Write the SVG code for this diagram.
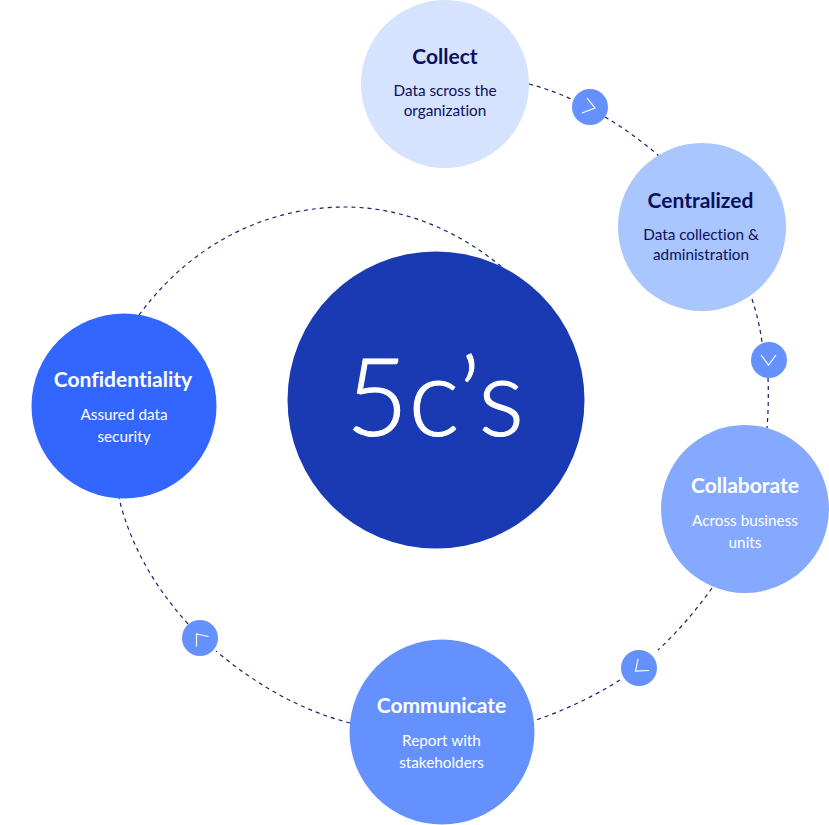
<svg xmlns="http://www.w3.org/2000/svg" width="829" height="825" viewBox="0 0 829 825">
<style>
text{font-family:"Lato","Noto Sans",sans-serif;text-anchor:middle;font-variant-ligatures:none}
.t{font-size:21px;font-weight:700}
.s{font-size:15.300px}
.d{fill:#0b0f5c}
.w{fill:#fff}
.c{fill:none;stroke:#1a1f6e;stroke-width:1.2;stroke-dasharray:4 4}
.b{fill:#6491fe}
.v{fill:none;stroke:#fff;stroke-width:1.2}
</style>
<rect width="829" height="825" fill="#fff"/>
<g id="connectors">
<path class="c" d="M529 84Q552 90 573 100"/>
<path class="c" d="M605 117Q634 134 660 157"/>
<path class="c" d="M752 299Q759 320 762 342"/>
<path class="c" d="M768 378Q769 403 767 428"/>
<path class="c" d="M712 588Q688 622 658 650"/>
<path class="c" d="M620 680Q580 705 536 720"/>
<path class="c" d="M350 723Q280 705 216 651"/>
<path class="c" d="M188 624Q135 565 119 498"/>
<path class="c" d="M139 315C205 226 290 207 345 207C405 207 460 232 503 268"/>
</g>
<g id="arrow-1"><circle class="b" cx="590" cy="107" r="18"/><path class="v" d="M587 98L595 108L582 113"/></g>
<g id="arrow-2"><circle class="b" cx="769" cy="360" r="18"/><path class="v" d="M761 355L768.500 365L776 355"/></g>
<g id="arrow-3"><circle class="b" cx="639" cy="668" r="18"/><path class="v" d="M638 659L635.500 671L649 670.500"/></g>
<g id="arrow-4"><circle class="b" cx="200" cy="638" r="18"/><path class="v" d="M196.500 646.500V634L208.500 636.500"/></g>
<g id="collect"><circle cx="445" cy="84" r="84" fill="#d5e3fe"/><text class="t d" x="445" y="63.500">Collect</text><text class="s d" x="445" y="95.500">Data scross the</text><text class="s d" x="445" y="115.500">organization</text></g>
<g id="centralized"><circle cx="702" cy="227" r="84" fill="#aac6fe"/><text class="t d" x="700.500" y="207.500">Centralized</text><text class="s d" x="701" y="239.500">Data collection &amp;</text><text class="s d" x="701" y="259.500">administration</text></g>
<g id="collaborate"><circle cx="745" cy="509" r="84" fill="#85a9fe"/><text class="t w" x="745" y="492.500">Collaborate</text><text class="s w" x="745" y="525.500">Across business</text><text class="s w" x="745" y="547.500">units</text></g>
<g id="communicate"><circle cx="442" cy="732" r="92.500" fill="#6491fe"/><text class="t w" x="441.500" y="712.500">Communicate</text><text class="s w" x="441.500" y="745.500">Report with</text><text class="s w" x="441.500" y="767.500">stakeholders</text></g>
<g id="confidentiality"><circle cx="124" cy="406" r="92.500" fill="#3366fe"/><text class="t w" x="123" y="386.500">Confidentiality</text><text class="s w" x="124" y="419.500">Assured data</text><text class="s w" x="124" y="441.500">security</text></g>
<g id="center"><circle cx="436" cy="400" r="148.500" fill="#1a3ab4"/><text x="435" y="436" fill="#fff" stroke="#fff" stroke-width="1" font-size="108" font-weight="300">5c’s</text></g>
</svg>
